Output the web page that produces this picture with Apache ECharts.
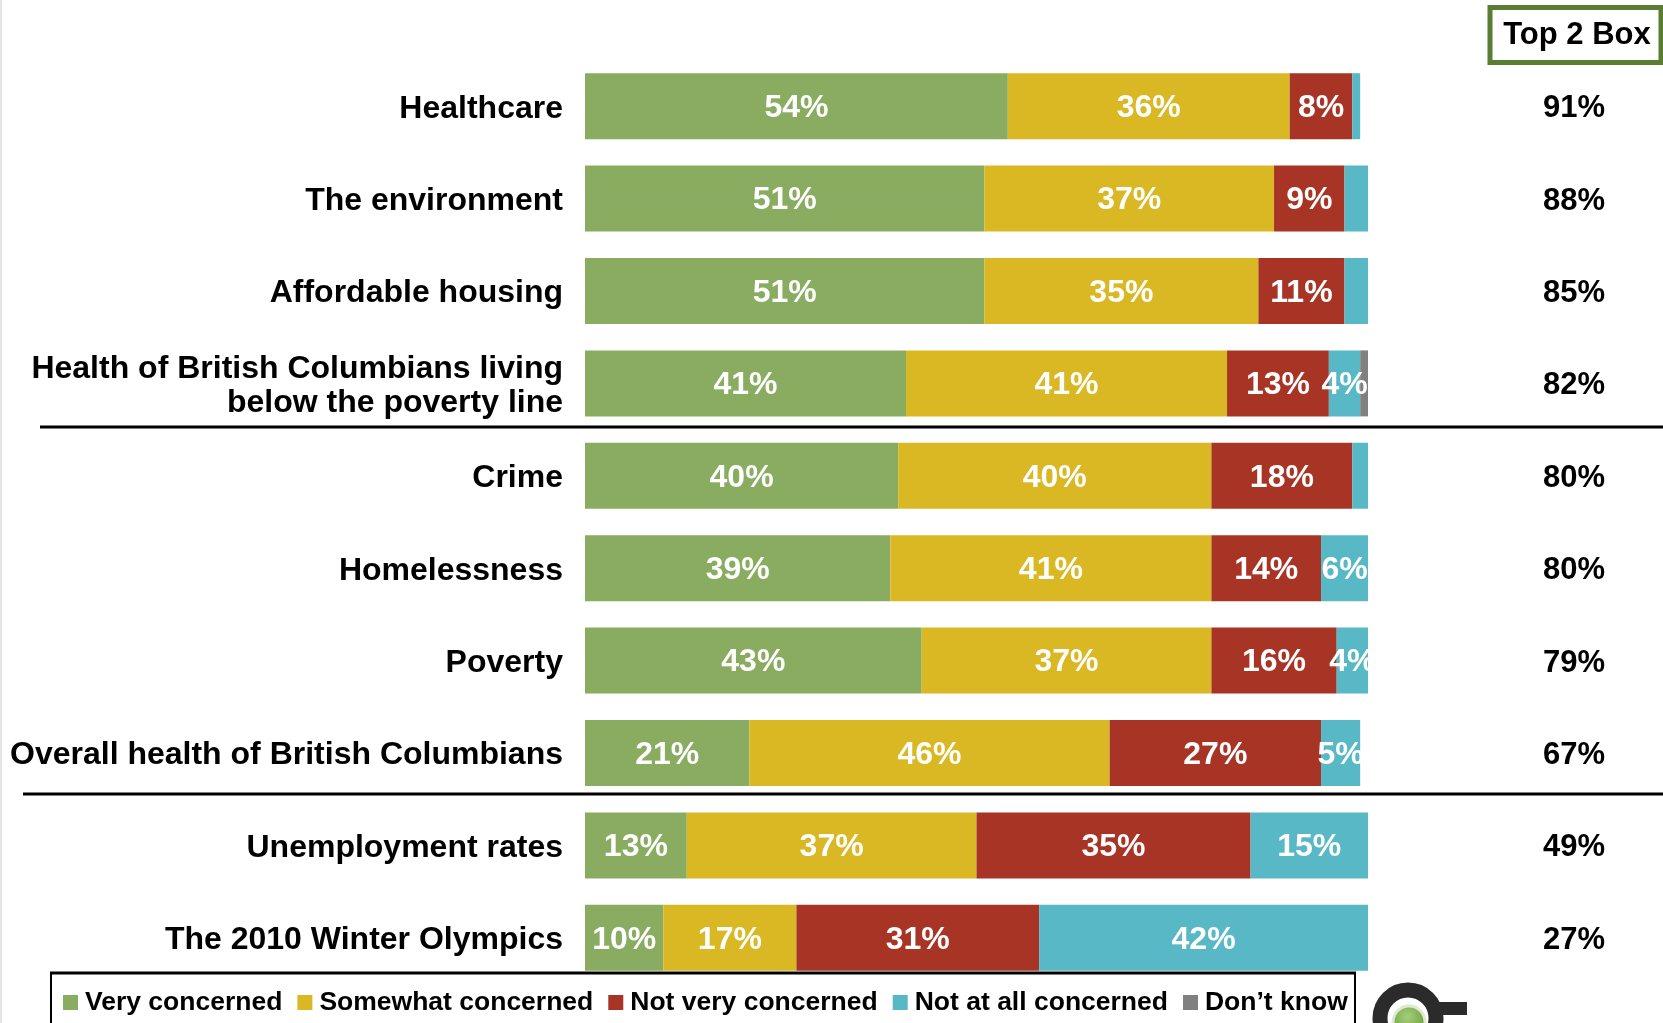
<!DOCTYPE html>
<html>
<head>
<meta charset="utf-8">
<script src="https://cdn.jsdelivr.net/npm/echarts@6/dist/echarts.min.js"></script>
<style>
  html, body { margin: 0; padding: 0; background: #fff; }
  #chart { width: 1663px; height: 1023px; }
</style>
</head>
<body>
<div id="chart"></div>
<script>
// Issues, top to bottom
const issues = [
  'Healthcare',
  'The environment',
  'Affordable housing',
  'Health of British Columbians living\nbelow the poverty line',
  'Crime',
  'Homelessness',
  'Poverty',
  'Overall health of British Columbians',
  'Unemployment rates',
  'The 2010 Winter Olympics'
];

// Share of respondents (%) per response
const veryConcerned     = [54, 51, 51, 41, 40, 39, 43, 21, 13, 10];
const somewhatConcerned = [36, 37, 35, 41, 40, 41, 37, 46, 37, 17];
const notVeryConcerned  = [ 8,  9, 11, 13, 18, 14, 16, 27, 35, 31];
const notAtAllConcerned = [ 1,  3,  3,  4,  2,  6,  4,  5, 15, 42];
const dontKnow          = [ 0,  0,  0,  1,  0,  0,  0,  0,  0,  0];

// Very + somewhat concerned, as reported
const top2Box = [91, 88, 85, 82, 80, 80, 79, 67, 49, 27];

const seriesNames = ['Very concerned', 'Somewhat concerned', 'Not very concerned', 'Not at all concerned', 'Don\u2019t know'];
const seriesColors = ['#89ac61', '#dab823', '#a83425', '#59b8c6', '#808080'];
const seriesData = [veryConcerned, somewhatConcerned, notVeryConcerned, notAtAllConcerned, dontKnow];

const FONT = '"Liberation Sans", Arial, Helvetica, sans-serif';

// bold black label text, nudged a little below the band centre
const labelRich = {
  t: { color: '#000', fontFamily: FONT, fontWeight: 'bold', fontSize: 32, lineHeight: 34, padding: [5, 0, 0, 0] },
  n: { color: '#000', fontFamily: FONT, fontWeight: 'bold', fontSize: 31, lineHeight: 34, padding: [5, 0, 0, 0] }
};
const wrapLines = (text, key) => text.split('\n').map(s => '{' + key + '|' + s + '}').join('\n');

const chart = echarts.init(document.getElementById('chart'), null, { renderer: 'canvas' });

const series = seriesNames.map((name, i) => ({
  name: name,
  type: 'bar',
  stack: 'total',
  barWidth: 66,
  data: seriesData[i],
  itemStyle: { color: seriesColors[i] },
  label: {
    show: true,
    position: 'inside',
    offset: [0, 2],
    color: '#fff',
    fontFamily: FONT,
    fontWeight: 'bold',
    fontSize: 32,
    formatter: p => (p.value >= 4 ? p.value + '%' : '')
  },
  emphasis: { disabled: true }
}));

chart.setOption({
  backgroundColor: '#fff',
  animation: false,
  textStyle: { fontFamily: FONT },
  grid: { left: 585, right: 295, top: 60, bottom: 39, containLabel: false },
  xAxis: {
    type: 'value',
    min: 0,
    max: 100,
    show: false
  },
  yAxis: [
    {
      type: 'category',
      data: issues,
      inverse: true,
      axisLine: { show: false },
      axisTick: { show: false },
      splitLine: { show: false },
      axisLabel: {
        margin: 22,
        align: 'right',
        formatter: v => wrapLines(v, 't'),
        rich: labelRich
      }
    },
    {
      type: 'category',
      data: top2Box.map(v => v + '%'),
      inverse: true,
      position: 'right',
      axisLine: { show: false },
      axisTick: { show: false },
      splitLine: { show: false },
      axisLabel: {
        margin: 206,
        align: 'center',
        formatter: v => wrapLines(v, 'n'),
        rich: labelRich
      }
    }
  ],
  legend: {
    data: seriesNames,
    left: 58,
    top: 984,
    itemWidth: 15,
    itemHeight: 15,
    itemGap: 15,
    icon: 'rect',
    selectedMode: false,
    textStyle: {
      color: '#000',
      fontFamily: FONT,
      fontWeight: 'bold',
      fontSize: 26.5,
      padding: [0, 0, 0, 2]
    }
  },
  graphic: [
    // faint page edge
    { type: 'line', shape: { x1: 1, y1: 0, x2: 1, y2: 1023 }, style: { stroke: '#e4e4e4', lineWidth: 2 }, silent: true },
    // group dividers
    { type: 'line', shape: { x1: 40, y1: 427, x2: 1663, y2: 427 }, style: { stroke: '#000', lineWidth: 3 }, silent: true },
    { type: 'line', shape: { x1: 23, y1: 794, x2: 1663, y2: 794 }, style: { stroke: '#000', lineWidth: 3 }, silent: true },
    // legend frame
    { type: 'rect', shape: { x: 51, y: 973, width: 1304, height: 70 }, style: { fill: 'none', stroke: '#000', lineWidth: 2 }, z: 0, silent: true },
    { type: 'line', shape: { x1: 50, y1: 973, x2: 1356, y2: 973 }, style: { stroke: '#000', lineWidth: 3 }, silent: true },
    // Top 2 Box header
    { type: 'rect', shape: { x: 1490, y: 7.5, width: 171, height: 55 }, style: { fill: '#fff', stroke: '#5a7d34', lineWidth: 5 }, silent: true },
    {
      type: 'text', x: 1577, y: 35, silent: true,
      style: { text: 'Top 2 Box', fill: '#000', font: 'bold 31px ' + FONT, align: 'center', verticalAlign: 'middle' }
    },
    // logo
    { type: 'circle', shape: { cx: 1408, cy: 1018, r: 28 }, style: { fill: 'none', stroke: '#2b2b2b', lineWidth: 15 }, silent: true },
    { type: 'rect', shape: { x: 1430, y: 1002, width: 37, height: 13 }, style: { fill: '#2b2b2b' }, silent: true },
    {
      type: 'circle', shape: { cx: 1409, cy: 1022, r: 16 }, silent: true,
      style: {
        fill: new echarts.graphic.RadialGradient(0.45, 0.35, 0.7, [
          { offset: 0, color: '#a6cf78' },
          { offset: 1, color: '#5e9634' }
        ]),
        stroke: '#dfe9d2', lineWidth: 3
      }
    }
  ],
  series: series
});
</script>
</body>
</html>
